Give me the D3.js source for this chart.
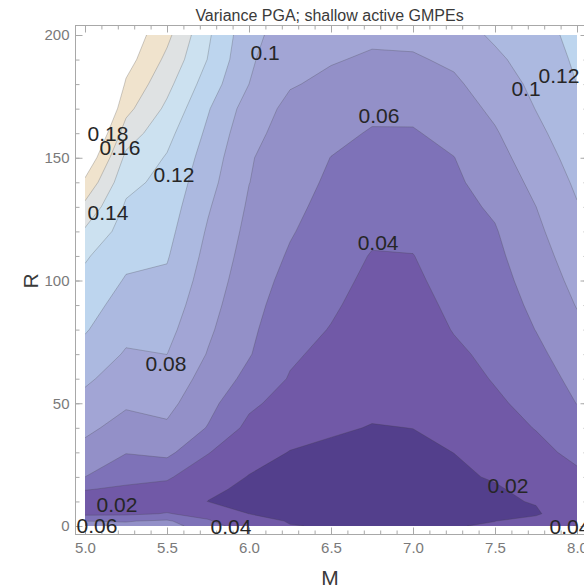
<!DOCTYPE html>
<html>
<head>
<meta charset="utf-8">
<script src="https://cdn.jsdelivr.net/npm/d3@7"></script>
<style>
  body { margin: 0; background: #fff; }
  svg { display: block; }
</style>
</head>
<body>
<svg id="chart" width="584" height="588"></svg>
<script>
// grid of the plot: magnitude columns, distance rows (rows are not evenly spaced)
const mGrid = [5.0, 5.25, 5.5, 5.75, 6.0, 6.25, 6.5, 6.75, 7.0, 7.25, 7.5, 7.75, 8.0];
const rGrid = [0, 2, 5, 10, 15, 20, 30, 40, 50, 60, 70, 80, 90, 100, 110, 120, 130, 140, 150, 160, 170, 180, 190, 200];

// variance, one array per M column, in rGrid order
const varM500 = [0.068, 0.060, 0.035, 0.030, 0.041, 0.060, 0.0733, 0.0846, 0.0939, 0.1033, 0.1129, 0.1217, 0.1281, 0.1346, 0.1424, 0.1573, 0.1749, 0.196, 0.218, 0.236, 0.254, 0.27, 0.285, 0.30];
const varM525 = [0.064, 0.059, 0.036, 0.024, 0.037, 0.0461, 0.0608, 0.0724, 0.0827, 0.0905, 0.0982, 0.1051, 0.1118, 0.1184, 0.1248, 0.131, 0.1373, 0.1455, 0.1554, 0.1706, 0.1859, 0.1973, 0.2086, 0.215];
const varM550 = [0.070, 0.063, 0.041, 0.030, 0.035, 0.0422, 0.0651, 0.0771, 0.0855, 0.0928, 0.1001, 0.1056, 0.1111, 0.1166, 0.1216, 0.1258, 0.130, 0.1342, 0.1384, 0.146, 0.1559, 0.1657, 0.1754, 0.185];
const varM575 = [0.046, 0.042, 0.034, 0.0198, 0.0224, 0.0285, 0.0409, 0.0589, 0.066, 0.0725, 0.0789, 0.0831, 0.0868, 0.0905, 0.0941, 0.0978, 0.1019, 0.1067, 0.1114, 0.1161, 0.1216, 0.1304, 0.1392, 0.143];
const varM600 = [0.032, 0.026, 0.0199, 0.0165, 0.0175, 0.0193, 0.0265, 0.0348, 0.044, 0.0547, 0.0613, 0.064, 0.0667, 0.0694, 0.0721, 0.0748, 0.0775, 0.0803, 0.0815, 0.086, 0.091, 0.100, 0.103, 0.106];
const varM625 = [0.0205, 0.019, 0.017, 0.0155, 0.0155, 0.017, 0.0195, 0.0255, 0.032, 0.0386, 0.0429, 0.0467, 0.0504, 0.0542, 0.058, 0.0615, 0.0647, 0.068, 0.0705, 0.072, 0.075, 0.0815, 0.0855, 0.090];
const varM650 = [0.019, 0.018, 0.0165, 0.015, 0.0145, 0.015, 0.0175, 0.0216, 0.026, 0.0304, 0.0348, 0.0392, 0.0424, 0.0453, 0.0482, 0.051, 0.0539, 0.0568, 0.0597, 0.0649, 0.0705, 0.076, 0.0813, 0.086];
const varM675 = [0.018, 0.017, 0.016, 0.0145, 0.014, 0.0143, 0.016, 0.0195, 0.0224, 0.0252, 0.028, 0.0307, 0.0334, 0.0362, 0.039, 0.0433, 0.047, 0.0508, 0.0546, 0.0585, 0.0641, 0.071, 0.0778, 0.083];
const varM700 = [0.018, 0.017, 0.016, 0.015, 0.0145, 0.015, 0.0175, 0.0201, 0.0229, 0.0257, 0.0286, 0.0314, 0.0342, 0.037, 0.0396, 0.0438, 0.0476, 0.0512, 0.0549, 0.0586, 0.0641, 0.0709, 0.0777, 0.085];
const varM725 = [0.0195, 0.018, 0.0165, 0.0155, 0.0155, 0.0175, 0.0201, 0.0243, 0.0285, 0.0328, 0.037, 0.0408, 0.0435, 0.0462, 0.0489, 0.0516, 0.0543, 0.057, 0.0597, 0.0651, 0.0708, 0.0766, 0.0835, 0.092];
const varM750 = [0.021, 0.0199, 0.018, 0.0175, 0.0185, 0.0213, 0.0266, 0.0318, 0.0371, 0.0413, 0.0442, 0.047, 0.0499, 0.0528, 0.0557, 0.0586, 0.0627, 0.0678, 0.073, 0.0781, 0.084, 0.0903, 0.0965, 0.1028];
const varM775 = [0.030, 0.025, 0.018, 0.021, 0.0243, 0.0276, 0.0344, 0.0408, 0.0457, 0.0506, 0.0555, 0.0604, 0.0643, 0.0682, 0.0721, 0.076, 0.0799, 0.0851, 0.0903, 0.0955, 0.1005, 0.1044, 0.1082, 0.112];
const varM800 = [0.041, 0.037, 0.032, 0.030, 0.032, 0.036, 0.045, 0.0527, 0.0604, 0.0655, 0.0707, 0.0759, 0.0809, 0.0854, 0.0898, 0.0943, 0.0988, 0.1031, 0.1074, 0.1116, 0.1159, 0.1201, 0.123, 0.1257];
const columns = [varM500, varM525, varM550, varM575, varM600, varM625, varM650, varM675, varM700, varM725, varM750, varM775, varM800];

const levels = [0.02, 0.04, 0.06, 0.08, 0.10, 0.12, 0.14, 0.16, 0.18, 0.20];
const bandColors = ["#533f8c", "#7159a7", "#7e72b8", "#9390c8", "#a2a5d5", "#acb9e0", "#bdd5ee", "#cce1f0", "#dfe2e3", "#f0e3cd", "#ffffff"];

// contour labels as they sit in the picture
const labelText = ["0.1", "0.12", "0.1", "0.18", "0.16", "0.12", "0.14", "0.06", "0.04", "0.08", "0.02", "0.06", "0.04", "0.02", "0.04"];
const labelM = [6.098, 7.89, 7.689, 5.14, 5.213, 5.543, 5.14, 6.793, 6.787, 5.494, 5.195, 5.073, 5.89, 7.579, 7.957];
const labelR = [192.7, 183.7, 178.4, 159.7, 154, 143, 127.9, 167.4, 115.7, 66.4, 8.6, 0.4, 0, 16.7, 0];

const xTicks = [5.0, 5.5, 6.0, 6.5, 7.0, 7.5, 8.0];
const xMinor = d3.range(50, 81).map(d => d / 10);
const yTicks = [0, 50, 100, 150, 200];
const yMinor = d3.range(0, 201, 10);

const svg = d3.select("#chart");
const x = d3.scaleLinear().domain([5, 8]).range([85, 577]);
const y = d3.scaleLinear().domain([0, 200]).range([526, 35]);
const fr = {left: 75, top: 25, right: 587, bottom: 534};
const font = "'Liberation Sans', Arial, sans-serif";

// values laid out row by row for d3.contours
const nx = mGrid.length, ny = rGrid.length;
const values = [];
for (let j = 0; j < ny; j++)
  for (let i = 0; i < nx; i++)
    values.push(columns[i][j]);

// grid index -> data (piecewise linear, rows are uneven)
const mAt = d3.scaleLinear().domain(d3.range(nx)).range(mGrid);
const rAt = d3.scaleLinear().domain(d3.range(ny)).range(rGrid);
const proj = d3.geoTransform({
  point: function(px, py) { this.stream.point(x(mAt(px - 0.5)), y(rAt(py - 0.5))); }
});
const path = d3.geoPath(proj);
const bands = d3.contours().size([nx, ny]).thresholds(levels)(values);

svg.append("defs").append("clipPath").attr("id", "plotClip")
  .append("rect").attr("x", x(5)).attr("y", y(200))
  .attr("width", x(8) - x(5)).attr("height", y(0) - y(200));

const plot = svg.append("g").attr("clip-path", "url(#plotClip)");
plot.append("rect")
  .attr("x", x(5)).attr("y", y(200))
  .attr("width", x(8) - x(5)).attr("height", y(0) - y(200))
  .attr("fill", bandColors[0]);
plot.selectAll("path.band")
  .data(bands)
  .join("path")
  .attr("class", "band")
  .attr("d", path)
  .attr("fill", (d, i) => bandColors[i + 1])
  .attr("stroke", "rgba(60,60,60,0.28)")
  .attr("stroke-width", 0.9);

// frame
svg.append("rect")
  .attr("x", fr.left + 0.5).attr("y", fr.top + 0.5)
  .attr("width", fr.right - fr.left).attr("height", fr.bottom - fr.top)
  .attr("fill", "none").attr("stroke", "#a8a8a8").attr("stroke-width", 1);

function styleAxis(g) {
  g.select(".domain").remove();
  g.selectAll(".tick line").attr("stroke", "#a8a8a8");
  g.selectAll("text").attr("fill", "#7a7a7a").style("font-family", font).style("font-size", "15px");
}

svg.append("g").attr("transform", `translate(0,${fr.bottom + 0.5})`)
  .call(d3.axisBottom(x).tickValues(xMinor).tickSize(-4).tickFormat(""))
  .call(styleAxis);
svg.append("g").attr("transform", `translate(0,${fr.bottom + 0.5})`)
  .call(d3.axisBottom(x).tickValues(xTicks).tickSize(-7).tickPadding(8).tickFormat(d3.format(".1f")))
  .call(styleAxis);
svg.append("g").attr("transform", `translate(0,${fr.top + 0.5})`)
  .call(d3.axisTop(x).tickValues(xMinor).tickSize(-4).tickFormat(""))
  .call(styleAxis);
svg.append("g").attr("transform", `translate(0,${fr.top + 0.5})`)
  .call(d3.axisTop(x).tickValues(xTicks).tickSize(-7).tickFormat(""))
  .call(styleAxis);

svg.append("g").attr("transform", `translate(${fr.left + 0.5},0)`)
  .call(d3.axisLeft(y).tickValues(yMinor).tickSize(-4).tickFormat(""))
  .call(styleAxis);
svg.append("g").attr("transform", `translate(${fr.left + 0.5},0)`)
  .call(d3.axisLeft(y).tickValues(yTicks).tickSize(-7).tickPadding(6))
  .call(styleAxis);
svg.append("g").attr("transform", `translate(${fr.right + 0.5},0)`)
  .call(d3.axisRight(y).tickValues(yMinor).tickSize(-4).tickFormat(""))
  .call(styleAxis);
svg.append("g").attr("transform", `translate(${fr.right + 0.5},0)`)
  .call(d3.axisRight(y).tickValues(yTicks).tickSize(-7).tickFormat(""))
  .call(styleAxis);

// contour labels
svg.append("g").selectAll("text")
  .data(labelText)
  .join("text")
  .attr("x", (d, i) => x(labelM[i]))
  .attr("y", (d, i) => y(labelR[i]))
  .attr("text-anchor", "middle")
  .attr("dy", "0.36em")
  .style("font-family", font)
  .style("font-size", "21px")
  .attr("fill", "#262626")
  .text(d => d);

// title and axis names
svg.append("text")
  .attr("x", 329.5).attr("y", 21)
  .attr("text-anchor", "middle")
  .style("font-family", font).style("font-size", "16px")
  .attr("fill", "#3a3a3a")
  .text("Variance PGA; shallow active GMPEs");

svg.append("text")
  .attr("x", 330).attr("y", 585)
  .attr("text-anchor", "middle")
  .style("font-family", font).style("font-size", "21px")
  .attr("fill", "#3a3a3a")
  .text("M");

svg.append("text")
  .attr("transform", "translate(38,281) rotate(-90)")
  .attr("text-anchor", "middle")
  .style("font-family", font).style("font-size", "21px")
  .attr("fill", "#3a3a3a")
  .text("R");
</script>
</body>
</html>
